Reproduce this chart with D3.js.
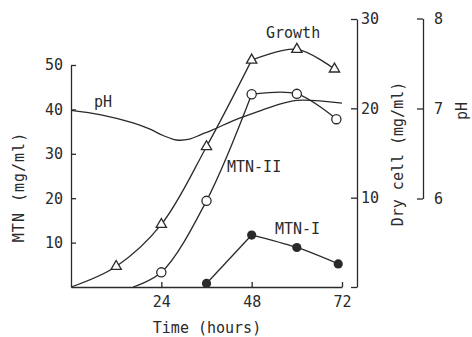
<!DOCTYPE html>
<html>
<head>
<meta charset="utf-8">
<script src="https://cdn.jsdelivr.net/npm/d3@7"></script>
<style>
body{margin:0;background:#fff;}
text{font-family:"DejaVu Sans Mono",monospace;font-size:15px;fill:#2a2a2a;}
</style>
</head>
<body>
<div id="chart"></div>
<script>
// time in hours
var growthTime = [0, 12, 24, 36, 48, 60, 70];
var growthDry = [0, 2.3, 7.0, 15.7, 25.4, 26.6, 24.4];   // dry cell mg/ml
var mtn2Time = [16.5, 24, 36, 48, 60, 70.5];
var mtn2Val = [0, 3.3, 19.4, 43.4, 43.5, 37.8];           // MTN-II mg/ml
var mtn1Time = [36, 48, 60, 71];
var mtn1Val = [0.8, 11.7, 8.9, 5.2];                      // MTN-I mg/ml
var phTime = [0, 8, 16.5, 21, 24.5, 28, 31.5, 34.5, 37.5, 44, 50, 54, 60, 72];
var phVal = [6.98, 6.93, 6.84, 6.77, 6.70, 6.65, 6.66, 6.71, 6.76, 6.88, 6.97, 7.03, 7.09, 7.06];

var timeTicks = [24, 48, 72];
var mtnTicks = [10, 20, 30, 40, 50];
var dryTicks = [0, 10, 20, 30];
var phTicks = [6, 7, 8];

var width = 472, height = 337;
var ink = "#2a2a2a";

var svg = d3.select("#chart").append("svg")
  .attr("width", width)
  .attr("height", height);

var x = d3.scaleLinear().domain([0, 72]).range([71, 342]);
var yMtn = d3.scaleLinear().domain([0, 50]).range([287, 65]);
var yDry = d3.scaleLinear().domain([0, 30]).range([287, 19]);
var yPh = d3.scaleLinear().domain([6, 8]).range([198.5, 18.5]);

function zip(t, v) { return t.map(function(d, i) { return {t: d, v: v[i]}; }); }

// axes
function styleAxis(g) {
  g.attr("font-family", null).attr("font-size", null).attr("color", ink);
  g.selectAll("path,line").attr("stroke-width", 1.3);
}

svg.append("g")
  .attr("transform", "translate(71,0)")
  .call(d3.axisLeft(yMtn).tickValues(mtnTicks).tickSizeInner(-5).tickSizeOuter(0).tickPadding(8))
  .call(styleAxis);

svg.append("g")
  .attr("transform", "translate(0,287)")
  .call(d3.axisBottom(x).tickValues(timeTicks).tickSizeInner(-5).tickSizeOuter(0).tickPadding(9))
  .call(styleAxis);

svg.append("g")
  .attr("transform", "translate(357,0)")
  .call(d3.axisRight(yDry).tickValues(dryTicks).tickFormat(function(d){ return d ? d : ""; })
    .tickSizeInner(-6).tickSizeOuter(0).tickPadding(4))
  .call(styleAxis);

svg.append("g")
  .attr("transform", "translate(423,0)")
  .call(d3.axisRight(yPh).tickValues(phTicks).tickFormat(d3.format("d"))
    .tickSizeInner(-6).tickSizeOuter(0).tickPadding(11))
  .call(styleAxis);

// curves: hand drawn, so each series rises to the 48 h point and then bends over
function drawSeries(data, yScale) {
  var k = data.findIndex(function(d){ return d.t === 48; });
  var line = d3.line()
    .x(function(d){ return x(d.t); })
    .y(function(d){ return yScale(d.v); })
    .curve(d3.curveCatmullRom.alpha(0.5));
  [data.slice(0, k + 1), data.slice(k)].forEach(function(part) {
    svg.append("path")
      .attr("d", line(part))
      .attr("fill", "none")
      .attr("stroke", ink)
      .attr("stroke-width", 1.3);
  });
}

var growth = zip(growthTime, growthDry);
var mtn2 = zip(mtn2Time, mtn2Val);
var mtn1 = zip(mtn1Time, mtn1Val);
var ph = zip(phTime, phVal);

svg.append("path")
  .attr("d", d3.line()
    .x(function(d){ return x(d.t); })
    .y(function(d){ return yPh(d.v); })
    .curve(d3.curveCatmullRom.alpha(0.5))(ph))
  .attr("fill", "none")
  .attr("stroke", ink)
  .attr("stroke-width", 1.3);

drawSeries(growth, yDry);
drawSeries(mtn2, yMtn);
drawSeries(mtn1, yMtn);

// markers (curve start points at zero are not measurements)
svg.selectAll(".tri")
  .data(growth.filter(function(d){ return d.v > 0; }))
  .enter().append("path")
  .attr("d", d3.symbol().type(d3.symbolTriangle).size(46))
  .attr("transform", function(d){ return "translate(" + x(d.t) + "," + yDry(d.v) + ")"; })
  .attr("fill", "#fff")
  .attr("stroke", ink)
  .attr("stroke-width", 1.3);

svg.selectAll(".open")
  .data(mtn2.filter(function(d){ return d.v > 0; }))
  .enter().append("circle")
  .attr("cx", function(d){ return x(d.t); })
  .attr("cy", function(d){ return yMtn(d.v); })
  .attr("r", 4.6)
  .attr("fill", "#fff")
  .attr("stroke", ink)
  .attr("stroke-width", 1.3);

svg.selectAll(".solid")
  .data(mtn1)
  .enter().append("circle")
  .attr("cx", function(d){ return x(d.t); })
  .attr("cy", function(d){ return yMtn(d.v); })
  .attr("r", 4.6)
  .attr("fill", ink);

// labels
svg.append("text").attr("x", 94).attr("y", 107).text("pH");
svg.append("text").attr("x", 266).attr("y", 38).text("Growth");
svg.append("text").attr("x", 227).attr("y", 172).text("MTN-II");
svg.append("text").attr("x", 275).attr("y", 234).text("MTN-I");

svg.append("text")
  .attr("x", 207).attr("y", 333)
  .attr("text-anchor", "middle")
  .text("Time (hours)");

svg.append("text")
  .attr("transform", "translate(24,187) rotate(-90)")
  .attr("text-anchor", "middle")
  .style("letter-spacing", "1px")
  .text("MTN (mg/ml)");

svg.append("text")
  .attr("transform", "translate(403,154) rotate(-90)")
  .attr("text-anchor", "middle")
  .text("Dry cell (mg/ml)");

svg.append("text")
  .attr("transform", "translate(467,111) rotate(-90)")
  .attr("text-anchor", "middle")
  .text("pH");
</script>
</body>
</html>
